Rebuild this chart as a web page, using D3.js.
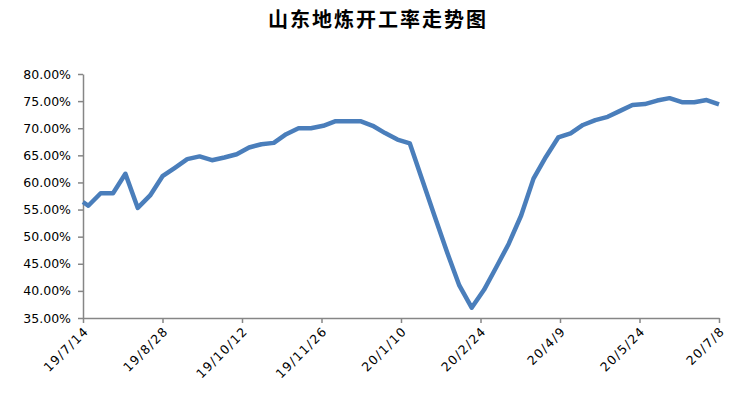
<!DOCTYPE html>
<html>
<head>
<meta charset="utf-8">
<script src="https://cdn.jsdelivr.net/npm/d3@7"></script>
<style>
    body { margin: 0; background: #fff; }
    #chart svg { display: block; }
    .title { font-family: "Noto Sans CJK SC", sans-serif; font-weight: bold; font-size: 20px; letter-spacing: 2px; }
    .y-axis text { font-family: "DejaVu Sans", sans-serif; font-size: 12.5px; fill: #000; }
    .x-axis text { font-family: "DejaVu Sans", sans-serif; font-size: 12.5px; letter-spacing: 1.3px; fill: #000; }
    .domain, .tick line { stroke: #868686; stroke-width: 1.5; }
</style>
</head>
<body>
<div id="chart"></div>
<script>
const titleText = "山东地炼开工率走势图";

const dates = [
    "2019-07-14", "2019-07-17", "2019-07-24", "2019-07-31", "2019-08-07", "2019-08-14", "2019-08-21",
    "2019-08-28", "2019-09-04", "2019-09-11", "2019-09-18", "2019-09-25", "2019-10-02", "2019-10-09",
    "2019-10-16", "2019-10-23", "2019-10-30", "2019-11-06", "2019-11-13", "2019-11-20", "2019-11-27",
    "2019-12-04", "2019-12-11", "2019-12-18", "2019-12-25", "2020-01-01", "2020-01-08", "2020-01-15",
    "2020-01-22", "2020-01-29", "2020-02-05", "2020-02-12", "2020-02-19", "2020-02-26", "2020-03-04",
    "2020-03-11", "2020-03-18", "2020-03-25", "2020-04-01", "2020-04-08", "2020-04-15", "2020-04-22",
    "2020-04-29", "2020-05-06", "2020-05-13", "2020-05-20", "2020-05-27", "2020-06-03", "2020-06-10",
    "2020-06-17", "2020-06-24", "2020-07-01", "2020-07-08"
];

// 开工率 (%)
const rates = [
    56.4, 55.7, 58.0, 58.0, 61.6, 55.3, 57.6,
    61.15, 62.7, 64.3, 64.8, 64.1, 64.6, 65.2,
    66.45, 67.05, 67.3, 68.9, 70.0, 70.0, 70.45,
    71.3, 71.3, 71.3, 70.45, 69.1, 67.9, 67.2,
    60.5, 53.8, 47.2, 41.0, 36.9, 40.2, 44.4,
    48.7, 53.9, 60.7, 64.7, 68.3, 69.05, 70.6,
    71.5, 72.1, 73.2, 74.3, 74.45, 75.1, 75.55,
    74.8, 74.8, 75.2, 74.4
];

const xTickDates = ["2019-07-14", "2019-08-28", "2019-10-12", "2019-11-26", "2020-01-10",
    "2020-02-24", "2020-04-09", "2020-05-24", "2020-07-08"];
const yTicks = [35, 40, 45, 50, 55, 60, 65, 70, 75, 80];

const width = 755, height = 394;
const margin = { top: 74, right: 36, bottom: 76, left: 83 };

const parse = d3.timeParse("%Y-%m-%d");
const data = dates.map((d, i) => ({ date: parse(d), value: rates[i] }));

const svg = d3.select("#chart")
    .append("svg")
    .attr("width", width)
    .attr("height", height);

svg.append("text")
    .attr("class", "title")
    .attr("x", 378)
    .attr("y", 27)
    .attr("text-anchor", "middle")
    .text(titleText);

const xScale = d3.scaleTime()
    .domain([parse(xTickDates[0]), parse(xTickDates[xTickDates.length - 1])])
    .range([margin.left, width - margin.right]);

const yScale = d3.scaleLinear()
    .domain([35, 80])
    .range([height - margin.bottom, margin.top]);

svg.append("g")
    .attr("class", "y-axis")
    .attr("transform", `translate(${margin.left},0)`)
    .call(d3.axisLeft(yScale)
        .tickValues(yTicks)
        .tickSize(5)
        .tickPadding(7)
        .tickSizeOuter(0)
        .tickFormat(d => d3.format(".2f")(d) + "%"));

const xAxis = svg.append("g")
    .attr("class", "x-axis")
    .attr("transform", `translate(0,${height - margin.bottom})`)
    .call(d3.axisBottom(xScale)
        .tickValues(xTickDates.map(parse))
        .tickSize(5)
        .tickSizeOuter(0)
        .tickFormat(d3.timeFormat("%y/%-m/%-d")));

xAxis.selectAll("text")
    .attr("text-anchor", "end")
    .attr("dy", null)
    .attr("y", null)
    .attr("transform", "translate(6,14) rotate(-45)");

const line = d3.line()
    .x(d => xScale(d.date))
    .y(d => yScale(d.value))
    .curve(d3.curveLinear);

svg.append("path")
    .datum(data)
    .attr("fill", "none")
    .attr("stroke", "#4a7ebb")
    .attr("stroke-width", 4.5)
    .attr("stroke-linejoin", "round")
    .attr("d", line);
</script>
</body>
</html>
